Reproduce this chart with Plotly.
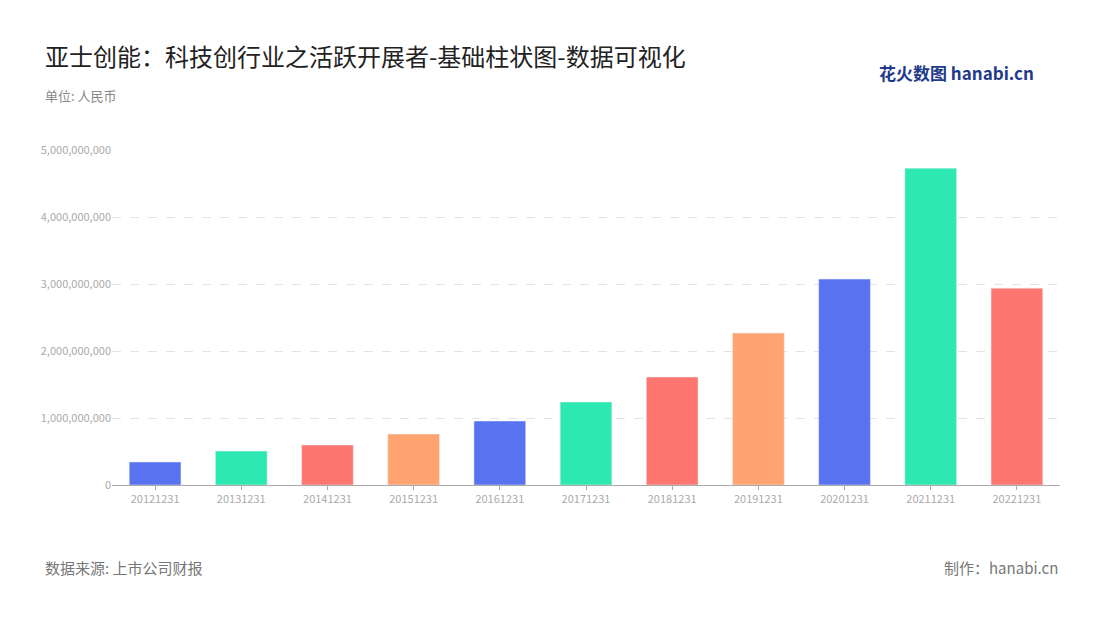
import plotly.graph_objects as go

categories = ["20121231","20131231","20141231","20151231","20161231","20171231","20181231","20191231","20201231","20211231","20221231"]
values = [343e6, 507e6, 597e6, 761e6, 955e6, 1239e6, 1612e6, 2269e6, 3075e6, 4731e6, 2940e6]
palette = ["#5872F0", "#2EE8B1", "#FF7670", "#FFA470"]
colors = [palette[i % 4] for i in range(len(categories))]
tickvals = [0, 1e9, 2e9, 3e9, 4e9, 5e9]
ticktext = ["0", "1,000,000,000", "2,000,000,000", "3,000,000,000", "4,000,000,000", "5,000,000,000"]

F = "Noto Sans CJK SC"
L, T, R, B = 104, 142, 48, 143
W, H = 1100, 620
fig = go.Figure(go.Bar(x=categories, y=values, marker_color=colors, width=0.6))
fig.update_layout(
    width=W, height=H, plot_bgcolor="white", paper_bgcolor="white",
    margin=dict(l=L, r=R, t=T, b=B), showlegend=False,
    font=dict(family=F, color="#999"),
    xaxis=dict(type="category", showline=True, linecolor="#aaa", ticks="outside", ticklen=4,
               tickcolor="#aaa", tickfont=dict(size=11, color="#aaa")),
    yaxis=dict(range=[0, 5.003e9], tickvals=tickvals, ticktext=ticktext, showgrid=True,
               gridcolor="#e3e3e3", griddash="dash", zeroline=False, tickfont=dict(size=11, color="#aaa")),
    annotations=[
        dict(text="亚士创能：科技创行业之活跃开展者-基础柱状图-数据可视化", x=43, y=55,
             showarrow=False, xanchor="left", yanchor="middle", font=dict(size=24, color="#222", family=F)),
        dict(text="单位: 人民币", x=43, y=95, showarrow=False, xanchor="left", yanchor="middle",
             font=dict(size=13, color="#888", family=F)),
        dict(text="数据来源: 上市公司财报", x=43, y=567, showarrow=False, xanchor="left", yanchor="middle",
             font=dict(size=15, color="#777", family=F)),
        dict(text="制作：hanabi.cn", x=1060, y=567, showarrow=False, xanchor="right", yanchor="middle",
             font=dict(size=15, color="#777", family=F)),
        dict(text="<b>花火数图</b> <b>hanabi.cn</b>", x=1036, y=72, showarrow=False, xanchor="right", yanchor="middle",
             font=dict(size=17, color="#1f3a8a", family=F)),
    ],
)
for a in fig.layout.annotations:
    a.xref = "paper"; a.yref = "paper"
    a.x = (a.x - 8 - L) / (W - L - R)
    a.y = 1 - (a.y - 8 - T) / (H - T - B)
fig.write_html("out.html")
